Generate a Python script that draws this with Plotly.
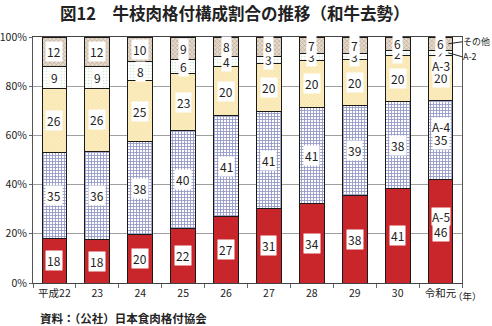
import numpy as np
import plotly.graph_objects as go

# 和牛去勢の格付構成（各年の等級別割合）
years = ["平成22", "23", "24", "25", "26", "27", "28", "29", "30", "令和元"]
a5 = [18, 18, 20, 22, 27, 31, 34, 38, 41, 46]
a4 = [35, 36, 38, 40, 41, 41, 41, 39, 38, 35]
a3 = [26, 26, 25, 23, 20, 20, 20, 20, 20, 20]
a2 = [9, 9, 8, 6, 4, 3, 3, 3, 2, 2]
other = [12, 12, 10, 9, 8, 8, 7, 7, 6, 6]
y_ticks = [0, 20, 40, 60, 80, 100]

series = [
    ("A-5", a5, dict(color="#c8262b")),
    ("A-4", a4, dict(color="white",
                     pattern=dict(shape="+", fgcolor="#2b3590", bgcolor="white",
                                  size=3, solidity=0.5))),
    ("A-3", a3, dict(color="#f8e3a3",
                     pattern=dict(shape="x", fgcolor="#efd486", bgcolor="#fbecbe",
                                  size=3, solidity=0.3))),
    ("A-2", a2, dict(color="white",
                     pattern=dict(shape=".", fgcolor="#a9d2a9", bgcolor="white",
                                  size=3, solidity=0.25))),
    ("その他", other, dict(color="#cdbba8",
                        pattern=dict(shape="x", fgcolor="#8f7764", bgcolor="#e6dacb",
                                     size=3, solidity=0.4))),
]

FONT = "Noto Sans CJK JP"
idx = list(range(len(years)))

fig = go.Figure()
for name, vals, mk in series:
    fig.add_trace(go.Bar(
        x=idx, y=vals, name=name,
        marker=dict(line=dict(color="#1a1a1a", width=1), **mk),
        hoverinfo="skip",
    ))

# segment centres in percent of each stacked bar
stack = np.array([s[1] for s in series], dtype=float)
totals = stack.sum(axis=0)
pct = stack / totals * 100
bottoms = np.vstack([np.zeros(len(years)), np.cumsum(pct, axis=0)[:-1]])
centres = bottoms + pct / 2

annotations = []
for si, (name, vals, _) in enumerate(series):
    for ci in idx:
        annotations.append(dict(
            x=ci, y=centres[si, ci], xref="x", yref="y",
            text=str(vals[ci]), showarrow=False,
            font=dict(family=FONT, size=12, color="#222"),
            bgcolor="white", borderpad=1,
        ))

# grade names written inside the last bar
last = idx[-1]
for si, shift in [(0, 15), (1, 13), (2, 12)]:
    annotations.append(dict(
        x=last, y=centres[si, last], xref="x", yref="y",
        yshift=shift, text=series[si][0], showarrow=False,
        font=dict(family=FONT, size=12, color="#222"),
        bgcolor="white", borderpad=0,
    ))

# leader labels on the right for the thin segments
for si, ay in [(4, -2), (3, 4)]:
    annotations.append(dict(
        x=last + 0.18, y=centres[si, last], xref="x", yref="y",
        text=series[si][0], showarrow=True, arrowhead=0, arrowwidth=1,
        arrowcolor="#222", ax=14, ay=ay, xanchor="left", borderpad=0,
        font=dict(family=FONT, size=9, color="#222"),
    ))

annotations.append(dict(
    x=0.975, y=-0.052, xref="paper", yref="paper", xanchor="left",
    yanchor="middle", text="（年）", showarrow=False,
    font=dict(family=FONT, size=9.5, color="#222"),
))
annotations.append(dict(
    x=0.012, y=-0.142, xref="paper", yref="paper", xanchor="left",
    yanchor="middle", text="<b>資料：（公社）日本食肉格付協会</b>", showarrow=False,
    font=dict(family=FONT, size=11.5, color="#222"),
))

fig.update_layout(
    width=492, height=326,
    margin=dict(l=33, r=30, t=37, b=43),
    barmode="stack", barnorm="percent", bargap=0.42,
    showlegend=False,
    plot_bgcolor="white", paper_bgcolor="white",
    title=dict(text="<b>図12　牛枝肉格付構成割合の推移（和牛去勢）</b>",
               x=0.477, xanchor="center", y=0.957, yanchor="middle",
               font=dict(family=FONT, size=16.5, color="#222")),
    annotations=annotations,
    xaxis=dict(range=[-0.5, len(years) - 0.5], tickvals=idx, ticktext=years,
               ticks="", showline=True, linecolor="#444", automargin=False,
               linewidth=1, mirror=True, showgrid=False, zeroline=False,
               minor=dict(tick0=0.5, dtick=1, ticks="outside", ticklen=4,
                          tickcolor="#666", showgrid=False),
               tickfont=dict(family=FONT, size=10.5, color="#222")),
    yaxis=dict(range=[0, 100], tickvals=y_ticks,
               ticktext=[f"{v}%" for v in y_ticks], automargin=False,
               ticks="outside", ticklen=3, tickcolor="#666",
               showgrid=True, gridcolor="#a0a0a0", gridwidth=1,
               showline=True, linecolor="#555", linewidth=1, mirror=True,
               zeroline=False,
               tickfont=dict(family=FONT, size=10.5, color="#222")),
)

fig.write_html("out.html")
